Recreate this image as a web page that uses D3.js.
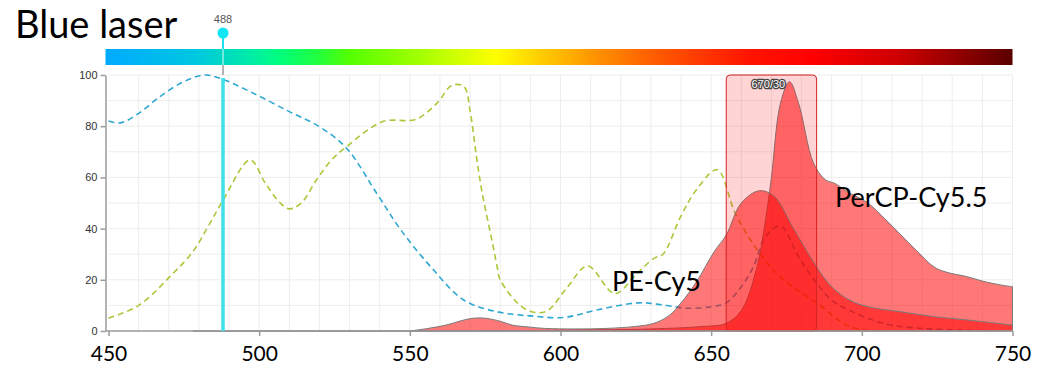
<!DOCTYPE html>
<html>
<head>
<meta charset="utf-8">
<script src="https://cdn.jsdelivr.net/npm/d3@7"></script>
<style>
  body { margin: 0; background: #fff; }
  svg { display: block; }
  text { font-family: Lato, "Open Sans", sans-serif; }
</style>
</head>
<body>
<div id="chart"></div>
<script>
var width = 1047;
var height = 367;

// wavelengths (nm) and values (%)
var blueExWl = [450, 454, 460, 467, 475, 482, 488, 497, 510, 520, 529, 539, 547, 557, 568, 579, 590, 601, 612, 626, 634, 642, 650, 655, 660, 664, 668, 673, 679, 685, 690, 696, 707, 720, 735, 745];
var blueExVal = [82, 81.3, 85, 91.5, 97.4, 100, 98.3, 93.5, 85.7, 79.8, 71.4, 53.8, 39.5, 25, 12, 7.5, 5.9, 5.3, 8.2, 11, 10.2, 8.9, 9.5, 11, 17.3, 25, 36.8, 41, 29, 18.7, 12, 8, 3, 1, 0.3, 0];

var greenExWl = [450, 460, 471, 478, 483, 488, 497, 502, 507, 510, 514, 519, 524, 529, 541, 552, 559, 564, 568, 570, 572, 574, 577, 579, 580, 588, 595, 602, 609, 618, 625, 631, 634, 640, 645, 652, 658, 666, 674, 685, 696, 705];
var greenExVal = [5, 10, 22, 31, 40.7, 51, 66.8, 57.8, 50, 47.7, 50, 59, 66.8, 72, 81.8, 82.7, 89, 96, 95.4, 86, 69, 54, 36.8, 25, 20, 8.8, 7.5, 16.7, 25.4, 14.6, 22, 28.4, 30, 45, 55, 63, 46, 30.5, 20, 11, 1.7, 0];

var peCy5Wl = [550, 556, 562, 567, 571, 575, 580, 584, 590, 595, 605, 615, 625, 631, 636, 640, 645, 651, 655, 660, 666, 671, 677, 685, 690, 696, 702, 713, 724, 735, 750];
var peCy5Val = [0, 1, 2.3, 4, 5, 5, 3.8, 2.3, 1.5, 1, 0.8, 1, 1.8, 3, 6, 11, 19, 31, 37.5, 50, 54.8, 52.5, 40.7, 25, 17.3, 12, 9.5, 7.5, 5.6, 4.3, 2.3];

var perCPWl = [478, 560, 600, 630, 646, 655, 660, 665, 668, 670, 673, 676, 679, 684, 688, 691, 695, 702, 708, 718, 724, 728, 735, 740, 746, 750];
var perCPVal = [0, 0, 0.3, 0.8, 1.7, 3, 8, 24, 43, 60, 89, 97.4, 89, 65.5, 59, 57.7, 54.5, 50, 43.4, 31.6, 25, 23, 21.2, 19.5, 18, 17.3];

var xTicks = [450, 500, 550, 600, 650, 700, 750];
var yTicks = [0, 20, 40, 60, 80, 100];

var laserWl = 488;
var filterCenter = 670;
var filterWidth = 30;

// colour stops of the spectrum bar
var spectrumWl = [450, 480, 488, 500, 507, 520, 531, 553, 579, 593, 613, 630, 647, 663, 684, 713, 750];
var spectrumCol = ["#00aaff", "#00c8e0", "#00d6c8", "#00f0a0", "#00ff80", "#20ff40", "#55ff00", "#a0ff00", "#ffff00", "#ffd000", "#ff9000", "#ff6000", "#ff3800", "#ff1400", "#ff0000", "#cc0000", "#5a0000"];

var x = d3.scaleLinear().domain([450, 750]).range([108.5, 1012.5]);
var y = d3.scaleLinear().domain([0, 100]).range([331, 75]);

var svg = d3.select("#chart").append("svg")
    .attr("width", width)
    .attr("height", height);

function zipData(wl, val) {
    return wl.map(function (w, i) { return {w: w, v: val[i]}; });
}

// grid
var grid = svg.append("g");
grid.selectAll(".gx").data(d3.range(460, 751, 10)).enter().append("line")
    .attr("x1", function (d) { return x(d); })
    .attr("x2", function (d) { return x(d); })
    .attr("y1", y(100)).attr("y2", y(0))
    .attr("stroke", "#ededed").attr("stroke-width", 1);
grid.selectAll(".gy").data(d3.range(10, 101, 10)).enter().append("line")
    .attr("x1", x(450)).attr("x2", x(750))
    .attr("y1", function (d) { return y(d); })
    .attr("y2", function (d) { return y(d); })
    .attr("stroke", "#ededed").attr("stroke-width", 1);

// spectrum bar
var defs = svg.append("defs");
var grad = defs.append("linearGradient").attr("id", "spec")
    .attr("x1", "0%").attr("x2", "100%").attr("y1", "0%").attr("y2", "0%");
spectrumWl.forEach(function (w, i) {
    grad.append("stop")
        .attr("offset", ((w - 450) / 300 * 100) + "%")
        .attr("stop-color", spectrumCol[i]);
});
svg.append("rect")
    .attr("x", x(450) - 3).attr("y", 49)
    .attr("width", x(750) - x(450) + 3).attr("height", 16)
    .attr("fill", "url(#spec)");

// excitation lines
var line = d3.line()
    .x(function (d) { return x(d.w); })
    .y(function (d) { return y(d.v); })
    .curve(d3.curveCatmullRom.alpha(0.5));

svg.append("path")
    .datum(zipData(blueExWl, blueExVal))
    .attr("d", line)
    .attr("fill", "none")
    .attr("stroke", "#2fa8d2")
    .attr("stroke-width", 1.6)
    .attr("stroke-dasharray", "6,4");

svg.append("path")
    .datum(zipData(greenExWl, greenExVal))
    .attr("d", line)
    .attr("fill", "none")
    .attr("stroke", "#a9c93a")
    .attr("stroke-width", 1.6)
    .attr("stroke-dasharray", "6,4");

// emission areas
var area = d3.area()
    .x(function (d) { return x(d.w); })
    .y0(y(0))
    .y1(function (d) { return y(d.v); })
    .curve(d3.curveCatmullRom.alpha(0.5));

svg.append("path")
    .datum(zipData(perCPWl, perCPVal))
    .attr("d", area)
    .attr("fill", "rgba(255, 0, 0, 0.53)")
    .attr("stroke", "#7a7a7a")
    .attr("stroke-width", 1);

svg.append("path")
    .datum(zipData(peCy5Wl, peCy5Val))
    .attr("d", area)
    .attr("fill", "rgba(255, 0, 0, 0.53)")
    .attr("stroke", "#7a7a7a")
    .attr("stroke-width", 1);

// filter box
var fx0 = x(filterCenter - filterWidth / 2);
var fx1 = x(filterCenter + filterWidth / 2);
svg.append("rect")
    .attr("x", fx0).attr("y", y(100))
    .attr("width", fx1 - fx0).attr("height", y(0) - y(100))
    .attr("rx", 4).attr("ry", 4)
    .attr("fill", "rgba(255, 0, 0, 0.17)")
    .attr("stroke", "#d42020")
    .attr("stroke-width", 1);
svg.append("text")
    .attr("x", (fx0 + fx1) / 2 - 3).attr("y", y(100) + 13)
    .attr("text-anchor", "middle")
    .attr("font-size", 11)
    .attr("fill", "#fff")
    .attr("stroke", "#444")
    .attr("stroke-width", 2.5)
    .attr("paint-order", "stroke")
    .style("font-family", "Arial, 'Liberation Sans', sans-serif")
    .text(filterCenter + "/" + filterWidth);

// axes
var yAxis = svg.append("g")
    .attr("transform", "translate(" + (x(450) - 3) + ",0)")
    .call(d3.axisLeft(y).tickValues(yTicks).tickSize(5).tickSizeOuter(0).tickPadding(3));
yAxis.selectAll("text").attr("font-size", 11).attr("fill", "#333").style("font-family", "Arial, 'Liberation Sans', sans-serif");

var xAxis = svg.append("g")
    .attr("transform", "translate(0," + y(0) + ")")
    .call(d3.axisBottom(x).tickValues(xTicks).tickSize(5).tickSizeOuter(0).tickPadding(10));
xAxis.select(".domain").attr("d", "M" + (x(450) - 3) + ",0H" + x(750));
xAxis.selectAll("text").attr("font-size", 21).attr("fill", "#000");

svg.selectAll(".domain, .tick line").attr("stroke", "#9a9a9a").attr("stroke-width", 1.5);
xAxis.selectAll("text").style("font-family", "Lato, sans-serif");

// laser marker
var lx = x(laserWl);
svg.append("line")
    .attr("x1", lx).attr("x2", lx).attr("y1", 49).attr("y2", 65)
    .attr("stroke", "rgba(255,255,255,0.6)").attr("stroke-width", 1.5);
svg.append("line")
    .attr("x1", lx).attr("x2", lx).attr("y1", 65).attr("y2", y(100))
    .attr("stroke", "#999").attr("stroke-width", 1.5);
svg.append("line")
    .attr("x1", lx).attr("x2", lx).attr("y1", 33).attr("y2", 49)
    .attr("stroke", "#1fe0ee").attr("stroke-width", 2);
svg.append("line")
    .attr("x1", lx).attr("x2", lx).attr("y1", y(100) + 3).attr("y2", y(0))
    .attr("stroke", "#3ee0ea").attr("stroke-width", 3.5);
svg.append("circle")
    .attr("cx", lx).attr("cy", 33).attr("r", 5.5)
    .attr("fill", "#12e6f2");
svg.append("text")
    .attr("x", lx).attr("y", 23)
    .attr("text-anchor", "middle")
    .attr("font-size", 11)
    .attr("fill", "#555")
    .style("font-family", "Arial, 'Liberation Sans', sans-serif")
    .text(laserWl);

// labels
svg.append("text")
    .attr("x", 15).attr("y", 38)
    .attr("font-size", 38)
    .attr("fill", "#000")
    .text("Blue laser");

svg.append("text")
    .attr("x", 612).attr("y", 291)
    .attr("font-size", 27)
    .attr("fill", "#000")
    .text("PE-Cy5");

svg.append("text")
    .attr("x", 835).attr("y", 207)
    .attr("font-size", 27)
    .attr("fill", "#000")
    .text("PerCP-Cy5.5");
</script>
</body>
</html>
